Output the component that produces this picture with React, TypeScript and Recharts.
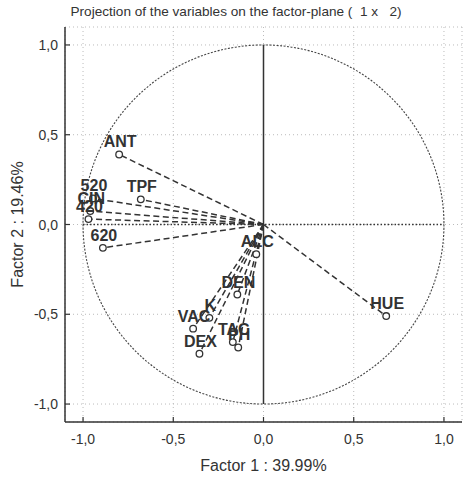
import React from 'react';
import {
  ScatterChart, Scatter, XAxis, YAxis, CartesianGrid, ReferenceLine, ReferenceArea,
} from 'recharts';

const variables = ['ANT', 'TPF', '520', 'CIN', '420', '620', 'ALC', 'DEN', 'K', 'VAC', 'DEX', 'TAC', 'PH', 'HUE'];
const factor1 = [-0.8, -0.68, -0.945, -0.96, -0.97, -0.89, -0.04, -0.145, -0.3, -0.39, -0.355, -0.17, -0.14, 0.68];
const factor2 = [0.39, 0.14, 0.145, 0.075, 0.03, -0.13, -0.165, -0.39, -0.52, -0.58, -0.72, -0.655, -0.685, -0.51];
const axisTicks = [-1, -0.5, 0, 0.5, 1];
const title = 'Projection of the variables on the factor-plane (  1 x   2)';
const xTitle = 'Factor 1 : 39.99%';
const yTitle = 'Factor 2 : 19.46%';

const points = variables.map((name, i) => ({ name, x: factor1[i], y: factor2[i] }));

const FONT = '"Liberation Sans", Arial, sans-serif';
const INK = '#333';

const fmt = (v: number) => v.toFixed(1).replace('.', ',');

const BottomTick = (p: any) => (
  <g>
    <line x1={p.x} x2={p.x} y1={p.y} y2={p.y - 5} stroke={INK} strokeWidth={1.2} />
    <text x={p.x} y={p.y + 22} textAnchor="middle" fontSize={14} fill={INK} fontFamily={FONT}>
      {fmt(p.payload.value)}
    </text>
  </g>
);
const TopTick = (p: any) => (
  <line x1={p.x} x2={p.x} y1={p.y} y2={p.y + 5} stroke={INK} strokeWidth={1.2} />
);
const LeftTick = (p: any) => (
  <g>
    <line x1={p.x} x2={p.x + 5} y1={p.y} y2={p.y} stroke={INK} strokeWidth={1.2} />
    <text x={p.x - 7} y={p.y + 5} textAnchor="end" fontSize={14} fill={INK} fontFamily={FONT}>
      {fmt(p.payload.value)}
    </text>
  </g>
);
const RightTick = (p: any) => (
  <line x1={p.x} x2={p.x - 5} y1={p.y} y2={p.y} stroke={INK} strokeWidth={1.2} />
);

const PointShape = (p: any) => (
  <g>
    <circle cx={p.cx} cy={p.cy} r={3.3} fill="#fff" stroke={INK} strokeWidth={1.3} />
    <text
      x={p.cx + 1}
      y={p.cy - 7}
      textAnchor="middle"
      fontSize={16}
      fontWeight="bold"
      fill={INK}
      fontFamily={FONT}
    >
      {p.payload.name}
    </text>
  </g>
);

const CircleShape = (p: any) => (
  <ellipse
    cx={p.x + p.width / 2}
    cy={p.y + p.height / 2}
    rx={p.width / 2}
    ry={Math.abs(p.height) / 2}
    fill="none"
    stroke="#444"
    strokeWidth={1.1}
    strokeDasharray="2 1.5"
  />
);

export default function App() {
  return (
    <div style={{ position: 'absolute', left: 0, top: 0, width: 464, height: 477, background: '#fff', fontFamily: FONT }}>
      <div
        style={{
          position: 'absolute', left: 0, top: 4, width: 472, textAlign: 'center',
          fontSize: 13.6, color: INK, fontFamily: FONT, whiteSpace: 'pre', lineHeight: '16px',
        }}
      >
        {title}
      </div>
      <ScatterChart width={464} height={477} margin={{ top: 27, right: 2, bottom: 0, left: 0 }}>
        <CartesianGrid stroke="#bbb" strokeDasharray="1 3" />
        <XAxis
          type="number" dataKey="x" domain={[-1.1, 1.1]} ticks={axisTicks} allowDataOverflow
          height={55} tickSize={0} tickMargin={0} tickLine={false}
          axisLine={{ stroke: INK, strokeWidth: 1.5 }}
          tick={(p: any) => <BottomTick {...p} />}
          label={{ value: xTitle, position: 'insideBottom', offset: 6, fontSize: 16, fill: INK, fontFamily: FONT }}
        />
        <XAxis
          xAxisId="top" orientation="top" type="number" dataKey="x" domain={[-1.1, 1.1]} ticks={axisTicks}
          allowDataOverflow height={0} tickSize={0} tickMargin={0} tickLine={false}
          axisLine={{ stroke: INK, strokeWidth: 1.5 }}
          tick={(p: any) => <TopTick {...p} />}
        />
        <YAxis
          type="number" dataKey="y" domain={[-1.1, 1.1]} ticks={axisTicks} allowDataOverflow
          width={65} tickSize={0} tickMargin={0} tickLine={false}
          axisLine={{ stroke: INK, strokeWidth: 1.5 }}
          tick={(p: any) => <LeftTick {...p} />}
          label={{ value: yTitle, angle: -90, position: 'insideLeft', offset: 17, fontSize: 16, fill: INK, fontFamily: FONT, style: { textAnchor: 'middle' } }}
        />
        <YAxis
          yAxisId="right" orientation="right" type="number" dataKey="y" domain={[-1.1, 1.1]} ticks={axisTicks}
          allowDataOverflow width={0} tickSize={0} tickMargin={0} tickLine={false}
          axisLine={{ stroke: INK, strokeWidth: 1.5 }}
          tick={(p: any) => <RightTick {...p} />}
        />
        <ReferenceArea x1={-1} x2={1} y1={-1} y2={1} shape={(p: any) => <CircleShape {...p} />} />
        <ReferenceLine segment={[{ x: -1, y: 0 }, { x: 1, y: 0 }]} stroke={INK} strokeWidth={1.3} strokeDasharray="1.5 2" />
        <ReferenceLine segment={[{ x: 0, y: -1 }, { x: 0, y: 1 }]} stroke={INK} strokeWidth={1.5} />
        {points.map((pt) => (
          <ReferenceLine
            key={pt.name}
            segment={[{ x: 0, y: 0 }, { x: pt.x, y: pt.y }]}
            stroke={INK}
            strokeWidth={1.5}
            strokeDasharray="6 3.5"
          />
        ))}
        <Scatter data={points} isAnimationActive={false} shape={(p: any) => <PointShape {...p} />} />
      </ScatterChart>
    </div>
  );
}
